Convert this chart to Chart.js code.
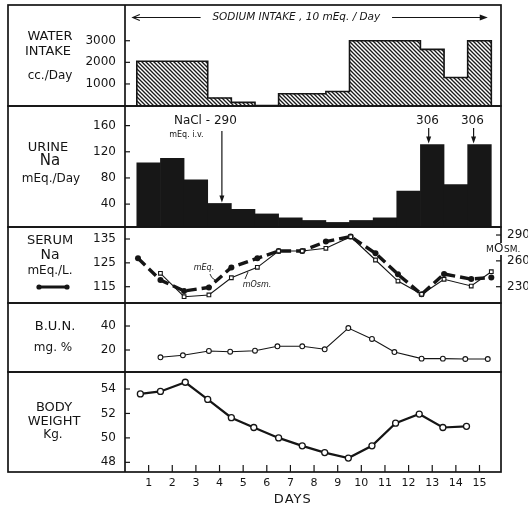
<!DOCTYPE html>
<html lang="en">
<head>
<meta charset="UTF-8">
<title>Sodium intake - water, urine Na, serum Na, BUN, body weight</title>
<script src="https://cdn.jsdelivr.net/npm/chart.js"></script>
<style>
    html, body { margin: 0; padding: 0; background: #fff; }
    #wrap { position: relative; width: 528px; height: 510px; }
    #wrap canvas { position: absolute; left: 0; top: 0; }
</style>
</head>
<body>
<div id="wrap">
    <canvas id="water" width="528" height="510"></canvas>
    <canvas id="urine" width="528" height="510"></canvas>
    <canvas id="serum" width="528" height="510"></canvas>
    <canvas id="bun" width="528" height="510"></canvas>
    <canvas id="weight" width="528" height="510"></canvas>
</div>
<script>
// ---- data ----
const days = [1, 2, 3, 4, 5, 6, 7, 8, 9, 10, 11, 12, 13, 14, 15];
const waterIntake = [2050, 2050, 2050, 350, 150, 0, 550, 550, 650, 3000, 3000, 3000, 2600, 1300, 3000];   // cc/day
const urineNa = [103, 110, 77, 41, 32, 25, 19, 15, 12, 15, 19, 60, 131, 70, 131];                       // mEq/day

const serumNaDays = [0.55, 1.5, 2.5, 3.55, 4.5, 5.6, 6.5, 7.5, 8.5, 9.55, 10.6, 11.55, 12.55, 13.5, 14.65, 15.5];
const serumNa = [126.9, 117.8, 113.2, 114.7, 123.1, 126.9, 130, 130, 133.9, 136, 129, 120.2, 111.8, 120.3, 118.2, 118.9];
const serumOsmDays = [1.5, 2.5, 3.55, 4.5, 5.6, 6.5, 7.5, 8.5, 9.55, 10.6, 11.55, 12.55, 13.5, 14.65, 15.5];
const serumOsm = [245.6, 218.4, 220.4, 240.4, 252.5, 271.4, 271.4, 274.6, 288, 261, 236.6, 221.2, 238.6, 230.8, 247.4];

const bunDays = [1.5, 2.45, 3.55, 4.45, 5.5, 6.45, 7.5, 8.45, 9.45, 10.45, 11.4, 12.55, 13.45, 14.4, 15.35];
const bun = [13.9, 15.6, 19.2, 18.6, 19.4, 23.1, 23.1, 20.6, 38.3, 29.2, 18.3, 12.8, 12.8, 12.5, 12.5];

const weightDays = [0.65, 1.5, 2.55, 3.5, 4.5, 5.45, 6.5, 7.5, 8.45, 9.45, 10.45, 11.45, 12.45, 13.45, 14.45];
const weight = [53.6, 53.8, 54.55, 53.15, 51.65, 50.85, 50.0, 49.35, 48.8, 48.35, 49.35, 51.2, 51.95, 50.85, 50.95];

// tick labels
const waterTicks = [1000, 2000, 3000];
const urineTicks = [40, 80, 120, 160];
const serumNaTicks = [115, 125, 135];
const serumOsmTicks = [230, 260, 290];
const bunTicks = [20, 40];
const weightTicks = [48, 50, 52, 54];

// ---- layout of the frame ----
const W = 528, H = 510;
const frameLeft = 8, axisX = 125, frameRight = 501;
const XMAX = 15.91;
const INK = '#151515';
const FONT = '"DejaVu Sans", sans-serif';

function pts(xs, ys) {
    return xs.map((x, i) => ({ x: x, y: ys[i] }));
}

function fixedTicks(vals) {
    return s => { s.ticks = vals.map(v => ({ value: v })); };
}

function yAxis(min, max, vals, pos) {
    return {
        type: 'linear',
        position: pos || 'left',
        min: min,
        max: max,
        afterBuildTicks: fixedTicks(vals),
        afterFit: s => { s.width = pos === 'right' ? W - frameRight : axisX; },
        grid: { display: false, drawTicks: false },
        border: { display: false },
        ticks: {
            padding: pos === 'right' ? 6 : 9,
            color: INK,
            font: { family: '"DejaVu Sans", sans-serif', size: 12 },
            callback: v => v
        }
    };
}

function xAxis(show) {
    const ax = {
        type: 'linear',
        min: 0,
        max: XMAX,
        offset: false,
        display: show,
        grid: { display: false, drawTicks: false },
        border: { display: false }
    };
    if (show) {
        ax.afterBuildTicks = fixedTicks(days);
        ax.afterFit = s => { s.height = H - 472; };
        ax.ticks = { padding: 5, color: INK, font: { family: '"DejaVu Sans", sans-serif', size: 11 }, callback: v => v, maxRotation: 0, autoSkip: false };
    }
    return ax;
}

function text(ctx, str, x, y, size, opts) {
    opts = opts || {};
    ctx.save();
    ctx.fillStyle = INK;
    ctx.font = (opts.style || '') + ' ' + size + 'px ' + FONT;
    ctx.textAlign = opts.align || 'center';
    ctx.textBaseline = 'middle';
    if (opts.spacing) ctx.letterSpacing = opts.spacing;
    ctx.fillText(str, x, y);
    ctx.restore();
}

function arrowDown(ctx, x, y0, y1) {
    ctx.beginPath();
    ctx.moveTo(x, y0);
    ctx.lineTo(x, y1 - 5);
    ctx.stroke();
    ctx.beginPath();
    ctx.moveTo(x - 2.5, y1 - 7);
    ctx.lineTo(x + 2.5, y1 - 7);
    ctx.lineTo(x, y1);
    ctx.closePath();
    ctx.fill();
}

// panel box, inward ticks, left-hand labels
const panelDecor = {
    id: 'panelDecor',
    afterDraw(chart, args, o) {
        const ctx = chart.ctx;
        ctx.save();
        ctx.strokeStyle = INK;
        ctx.fillStyle = INK;
        ctx.lineWidth = 1.7;
        ctx.strokeRect(frameLeft, o.top, frameRight - frameLeft, o.bottom - o.top);
        ctx.beginPath();
        ctx.moveTo(axisX, o.top);
        ctx.lineTo(axisX, o.bottom);
        ctx.stroke();

        ctx.lineWidth = 1.2;
        const y = chart.scales.y;
        y.ticks.forEach(t => {
            const py = y.getPixelForValue(t.value);
            ctx.beginPath();
            ctx.moveTo(axisX, py);
            ctx.lineTo(axisX + 5, py);
            ctx.stroke();
        });
        if (chart.scales.y2) {
            const y2 = chart.scales.y2;
            y2.ticks.forEach(t => {
                const py = y2.getPixelForValue(t.value);
                ctx.beginPath();
                ctx.moveTo(frameRight - 5, py);
                ctx.lineTo(frameRight, py);
                ctx.stroke();
            });
        }
        ctx.restore();

        (o.labels || []).forEach(l => text(ctx, l[0], l[1], l[2], l[3]));
        if (o.extra) o.extra(chart, ctx);
    }
};

function makeChart(id, type, top, bottom, datasets, scales, labels, extra, showX) {
    const ctx = document.getElementById(id).getContext('2d');
    return new Chart(ctx, {
        type: type,
        data: { datasets: datasets },
        options: {
            responsive: false,
            animation: false,
            events: [],
            layout: {
                autoPadding: false,
                padding: {
                    left: 0,
                    right: scales.y2 ? 0 : W - frameRight,
                    top: top,
                    bottom: showX ? 0 : H - bottom
                }
            },
            plugins: {
                legend: { display: false },
                tooltip: { enabled: false },
                panelDecor: { top: top, bottom: bottom, labels: labels, extra: extra }
            },
            scales: Object.assign({ x: xAxis(!!showX) }, scales)
        },
        plugins: [panelDecor]
    });
}

// hatch pattern for water bars
function hatch(ctx) {
    const c = document.createElement('canvas');
    c.width = 4; c.height = 4;
    const g = c.getContext('2d');
    g.fillStyle = '#fff';
    g.fillRect(0, 0, 4, 4);
    g.strokeStyle = '#1a1a1a';
    g.lineWidth = 1.35;
    g.beginPath();
    g.moveTo(0, 0); g.lineTo(4, 4);
    g.moveTo(-1, 3); g.lineTo(1, 5);
    g.moveTo(3, -1); g.lineTo(5, 1);
    g.stroke();
    return ctx.createPattern(c, 'repeat');
}

// stepped outline round the water bars
const waterOutline = [{ x: days[0] - 0.5, y: 0 }];
days.forEach((d, i) => waterOutline.push({ x: d - 0.5, y: waterIntake[i] }));
waterOutline.push({ x: days[days.length - 1] + 0.5, y: waterIntake[waterIntake.length - 1] });
waterOutline.push({ x: days[days.length - 1] + 0.5, y: 0 });

// 1. water intake
makeChart('water', 'bar', 5, 106, [
    {
        type: 'line', data: waterOutline, stepped: 'before', borderColor: INK, borderWidth: 1.6,
        pointRadius: 0, fill: false
    },
    {
        data: pts(days, waterIntake), backgroundColor: hatch(document.getElementById('water').getContext('2d')),
        borderWidth: 0, barPercentage: 1, categoryPercentage: 1
    }
], { y: yAxis(-20, 4135, waterTicks) },
[['WATER', 50, 37, 13], ['INTAKE', 48, 52, 13], ['cc./Day', 50, 76, 12]],
(chart, ctx) => {
    const x = chart.scales.x;
    const yy = 17.5;
    ctx.save();
    ctx.strokeStyle = INK; ctx.fillStyle = INK; ctx.lineWidth = 1.1;
    const a = x.getPixelForValue(0.33), b = x.getPixelForValue(3.2);
    const c = x.getPixelForValue(11.3), d = x.getPixelForValue(15.35);
    ctx.beginPath(); ctx.moveTo(a, yy); ctx.lineTo(b, yy); ctx.stroke();
    ctx.beginPath(); ctx.moveTo(a + 7, yy - 3); ctx.lineTo(a, yy); ctx.lineTo(a + 7, yy + 3); ctx.stroke();
    ctx.beginPath(); ctx.moveTo(c, yy); ctx.lineTo(d - 6, yy); ctx.stroke();
    ctx.beginPath(); ctx.moveTo(d, yy); ctx.lineTo(d - 8, yy - 3); ctx.lineTo(d - 8, yy + 3); ctx.closePath(); ctx.fill();
    ctx.restore();
    text(ctx, 'SODIUM INTAKE , 10 mEq. / Day', (b + c) / 2, yy, 10.5, { style: 'italic' });
});

// 2. urine sodium
makeChart('urine', 'bar', 106, 227, [
    {
        data: pts(days, urineNa), backgroundColor: '#171717', borderWidth: 0,
        barPercentage: 1, categoryPercentage: 1
    }
], { y: yAxis(5, 190, urineTicks) },
[['URINE', 48, 148, 13], ['Na', 50, 161, 15], ['mEq./Day', 51, 179, 12]],
(chart, ctx) => {
    const x = chart.scales.x, y = chart.scales.y;
    ctx.save();
    ctx.strokeStyle = INK; ctx.fillStyle = INK; ctx.lineWidth = 1.2;
    arrowDown(ctx, x.getPixelForValue(4.1), 131, y.getPixelForValue(urineNa[3]) - 1);
    arrowDown(ctx, x.getPixelForValue(12.85), 128, y.getPixelForValue(urineNa[12]) - 1);
    arrowDown(ctx, x.getPixelForValue(14.75), 128, y.getPixelForValue(urineNa[14]) - 1);
    ctx.restore();
    text(ctx, 'NaCl - 290', x.getPixelForValue(3.4), 121, 12);
    text(ctx, 'mEq. i.v.', x.getPixelForValue(2.6), 134.5, 8);
    text(ctx, '306', x.getPixelForValue(12.8), 121, 12);
    text(ctx, '306', x.getPixelForValue(14.7), 121, 12);
});

// 3. serum sodium and osmolality
makeChart('serum', 'line', 227, 303, [
    {
        data: pts(serumOsmDays, serumOsm), yAxisID: 'y2', borderColor: INK, borderWidth: 1.1,
        pointStyle: 'rect', pointRadius: 2.6, pointBackgroundColor: '#fff', pointBorderColor: INK,
        pointBorderWidth: 1.1, tension: 0
    },
    {
        data: pts(serumNaDays, serumNa), yAxisID: 'y', borderColor: INK, borderWidth: 3.4,
        borderDash: [10, 5], pointRadius: 3, pointBackgroundColor: INK, pointBorderWidth: 0, tension: 0
    }
], { y: yAxis(108.17, 140.03, serumNaTicks), y2: yAxis(211.1, 299.3, serumOsmTicks, 'right') },
[['SERUM', 50, 241, 13], ['Na', 50, 255, 14], ['mEq./L.', 50, 271, 12]],
(chart, ctx) => {
    ctx.save();
    ctx.strokeStyle = INK; ctx.fillStyle = INK; ctx.lineWidth = 3;
    ctx.beginPath(); ctx.moveTo(40, 287); ctx.lineTo(66, 287); ctx.stroke();
    ctx.beginPath(); ctx.arc(39, 287, 2.6, 0, Math.PI * 2); ctx.fill();
    ctx.beginPath(); ctx.arc(67, 287, 2.6, 0, Math.PI * 2); ctx.fill();
    // small series captions with leader ticks
    ctx.lineWidth = 0.9;
    ctx.beginPath(); ctx.moveTo(210, 274); ctx.quadraticCurveTo(211, 278, 215, 280); ctx.stroke();
    ctx.beginPath(); ctx.moveTo(245, 279); ctx.lineTo(248, 272); ctx.stroke();
    // mOsm caption on the right border
    ctx.fillStyle = '#fff';
    ctx.fillRect(482, 243, 46, 12);
    ctx.restore();
    text(ctx, 'mEq.', 204, 267.5, 8, { style: 'italic' });
    text(ctx, 'mOsm.', 257, 284.5, 8, { style: 'italic' });
    text(ctx, 'M', 486, 250, 9, { align: 'left' });
    text(ctx, 'O', 494, 249, 12, { align: 'left' });
    text(ctx, 'SM.', 504, 250, 9, { align: 'left' });
});

// 4. blood urea nitrogen
makeChart('bun', 'line', 303, 372, [
    {
        data: pts(bunDays, bun), borderColor: INK, borderWidth: 1.1, pointRadius: 2.4,
        pointBackgroundColor: '#fff', pointBorderColor: INK, pointBorderWidth: 1.1, tension: 0
    }
], { y: yAxis(1.67, 59.17, bunTicks) },
[['B.U.N.', 55, 327, 13], ['mg. %', 53, 348, 12]]);

// 5. body weight + day axis
makeChart('weight', 'line', 372, 472, [
    {
        data: pts(weightDays, weight), borderColor: INK, borderWidth: 2.2, pointRadius: 3,
        pointBackgroundColor: '#fff', pointBorderColor: INK, pointBorderWidth: 1.3, tension: 0
    }
], { y: yAxis(47.21, 55.39, weightTicks) },
[['BODY', 54, 408, 13], ['WEIGHT', 54, 422, 13], ['Kg.', 53, 435, 12]],
(chart, ctx) => {
    const x = chart.scales.x;
    ctx.save();
    ctx.strokeStyle = INK; ctx.lineWidth = 1.2;
    days.forEach(d => {
        const px = x.getPixelForValue(d);
        ctx.beginPath(); ctx.moveTo(px, 472); ctx.lineTo(px, 465); ctx.stroke();
    });
    ctx.restore();
    text(ctx, 'DAYS', x.getPixelForValue(7.1), 500, 13, { spacing: '1px' });
}, true);
</script>
</body>
</html>
